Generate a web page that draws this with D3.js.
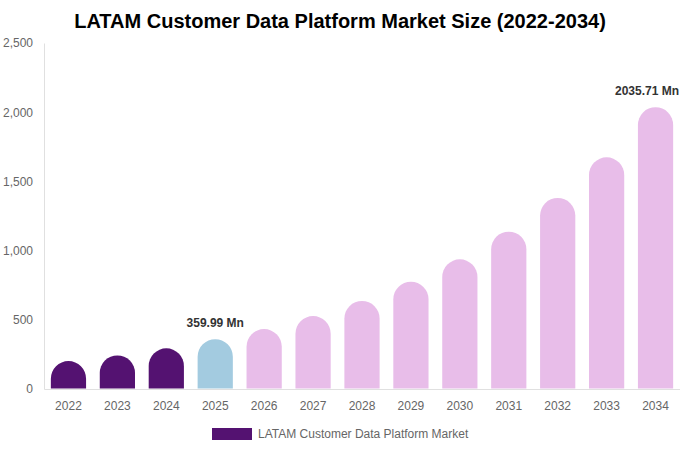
<!DOCTYPE html>
<html lang="en">
<head>
    <meta charset="UTF-8">
    <title>LATAM Customer Data Platform Market Size</title>
    <style>
        body {
            margin: 0;
            padding: 0;
            font-family: "Liberation Sans", Arial, sans-serif;
            background: #fff;
        }
        svg {
            display: block;
        }
        .title {
            font-size: 20px;
            font-weight: bold;
            fill: #000;
        }
        .axis text {
            font-size: 12px;
            fill: #666;
        }
        .value-label {
            font-size: 12px;
            font-weight: bold;
            fill: #333;
        }
        .legend text {
            font-size: 12px;
            fill: #666;
        }
    </style>
    <script src="https://d3js.org/d3.v7.min.js"></script>
</head>
<body>
    <svg id="chart" width="680" height="450"></svg>
    <script>
        const years = ["2022", "2023", "2024", "2025", "2026", "2027", "2028",
                       "2029", "2030", "2031", "2032", "2033", "2034"];
        const marketSize = [202, 243, 294, 359.99, 433, 527, 636, 775, 937, 1137, 1380, 1674, 2035.71];
        const yTicks = [0, 500, 1000, 1500, 2000, 2500];
        const labelled = {"2025": "359.99 Mn", "2034": "2035.71 Mn"};

        const colorFor = y => +y < 2025 ? "#541271" : (+y === 2025 ? "#a3cbe0" : "#e8bde9");

        const svg = d3.select("#chart");
        const margin = { top: 43, right: 0, bottom: 61, left: 44 };
        const width = 680 - margin.left - margin.right;
        const height = 450 - margin.top - margin.bottom;

        svg.append("text")
            .attr("class", "title")
            .attr("x", 340)
            .attr("y", 28)
            .style("text-anchor", "middle")
            .text("LATAM Customer Data Platform Market Size (2022-2034)");

        const chart = svg.append("g")
            .attr("transform", `translate(${margin.left},${margin.top})`);

        const x = d3.scaleBand()
            .domain(years)
            .range([0, width])
            .paddingInner(0.28)
            .paddingOuter(0.14);

        const y = d3.scaleLinear()
            .domain([0, 2500])
            .range([height, 0]);

        // y axis
        const yAxis = chart.append("g")
            .attr("class", "axis")
            .call(d3.axisLeft(y).tickValues(yTicks).tickSize(0).tickPadding(11).tickFormat(d3.format(",")));
        yAxis.select(".domain").attr("stroke", "#e0e0e0");

        // x axis
        const xAxis = chart.append("g")
            .attr("class", "axis")
            .attr("transform", `translate(0,${height})`)
            .call(d3.axisBottom(x).tickSize(0).tickPadding(12));
        xAxis.select(".domain").attr("stroke", "#e0e0e0");

        // bars with round tops
        const bw = x.bandwidth();
        const r = bw / 2;
        chart.selectAll(".bar")
            .data(years.map((yr, i) => ({ year: yr, value: marketSize[i] })))
            .enter().append("path")
            .attr("class", "bar")
            .attr("fill", d => colorFor(d.year))
            .attr("d", d => {
                const x0 = x(d.year);
                const top = y(d.value);
                const bottom = height - 0.5;
                return `M${x0},${bottom} L${x0},${top + r} A${r},${r} 0 0 1 ${x0 + bw},${top + r} L${x0 + bw},${bottom} Z`;
            });

        // value labels (kept inside the right edge)
        chart.selectAll(".value-label")
            .data(years.filter(yr => labelled[yr]))
            .enter().append("text")
            .attr("class", "value-label")
            .attr("x", d => x(d) + bw / 2)
            .attr("y", d => y(marketSize[years.indexOf(d)]) - 12)
            .style("text-anchor", "middle")
            .text(d => labelled[d])
            .each(function() {
                const box = this.getBBox();
                const over = box.x + box.width - (width - 1);
                if (over > 0) d3.select(this).attr("x", +d3.select(this).attr("x") - over);
            });

        // legend
        const legend = svg.append("g")
            .attr("class", "legend")
            .attr("transform", "translate(212,428)");
        legend.append("rect")
            .attr("width", 40)
            .attr("height", 12)
            .attr("fill", "#541271");
        legend.append("text")
            .attr("x", 46)
            .attr("y", 10)
            .text("LATAM Customer Data Platform Market");
    </script>
</body>
</html>
